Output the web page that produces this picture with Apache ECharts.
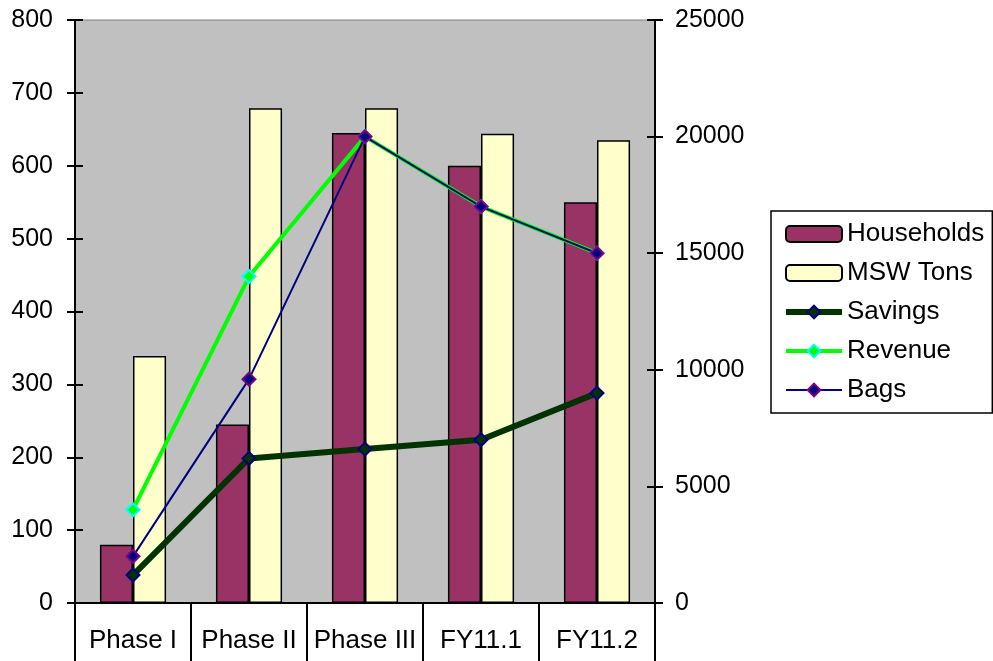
<!DOCTYPE html>
<html>
<head>
<meta charset="utf-8">
<script src="https://cdn.jsdelivr.net/npm/echarts@6/dist/echarts.min.js"></script>
<style>
html,body{margin:0;padding:0;background:#fff;}
#chart{width:993px;height:661px;}
</style>
</head>
<body>
<div id="chart"></div>
<script>
const categories = ['Phase I', 'Phase II', 'Phase III', 'FY11.1', 'FY11.2'];
const households = [80, 245, 645, 600, 550];
const mswTons = [339, 679, 679, 644, 635];
const savings = [1200, 6200, 6600, 7000, 9000];
const revenue = [4000, 14000, 20000, 17000, 15000];
const bags = [2000, 9600, 20000, 17000, 15000];

const FONT = "'Liberation Sans', Arial, sans-serif";

const chart = echarts.init(document.getElementById('chart'), null, {renderer: 'canvas'});

function yAx(pos, max, interval, showLabel, inside, margin) {
  return {
    type: 'value', position: pos, min: 0, max: max, interval: interval,
    axisLine: {show: true, lineStyle: {color: '#000', width: 2}},
    axisTick: {show: true, inside: inside, length: 8, lineStyle: {color: '#000', width: 2}},
    axisLabel: {show: showLabel, color: '#000', fontFamily: FONT, fontSize: 25, margin: margin,
                formatter: function (v) { return String(v); }},
    splitLine: {show: false}
  };
}

chart.setOption({
  animation: false,
  backgroundColor: '#fff',
  grid: {left: 75, right: 338, top: 20, bottom: 58, show: true,
         backgroundColor: '#C0C0C0', borderColor: '#808080', borderWidth: 1},
  legend: {
    orient: 'vertical', left: 771, top: 211,
    padding: [10, 8, 10, 12],
    itemWidth: 56, itemHeight: 16, itemGap: 13,
    borderColor: '#000', borderWidth: 1.5, backgroundColor: '#fff', borderRadius: 0,
    textStyle: {fontFamily: FONT, fontSize: 26, color: '#000', lineHeight: 26},
    data: [
      {name: 'Households'},
      {name: 'MSW Tons'},
      {name: 'Savings', lineStyle: {width: 6, color: '#003300'}},
      {name: 'Revenue', lineStyle: {width: 4, color: '#00FF00'}},
      {name: 'Bags', lineStyle: {width: 2, color: '#000080'}}
    ]
  },
  xAxis: {
    type: 'category', data: categories, boundaryGap: true,
    axisLine: {lineStyle: {color: '#000', width: 2}},
    axisTick: {show: true, length: 58, alignWithLabel: false, interval: 0, lineStyle: {color: '#000', width: 2}},
    axisLabel: {color: '#000', fontFamily: FONT, fontSize: 26, margin: 25, interval: 0}
  },
  yAxis: [
    yAx('left', 800, 100, true, false, 22),
    yAx('right', 25000, 5000, true, false, 20),
    yAx('left', 800, 100, false, true, 22),
    yAx('right', 25000, 5000, false, true, 20)
  ],
  series: [
    {name: 'Households', type: 'bar', yAxisIndex: 0, data: households,
     barGap: '0%', barCategoryGap: '43%',
     itemStyle: {color: '#993366', borderColor: '#000', borderWidth: 1.5}},
    {name: 'MSW Tons', type: 'bar', yAxisIndex: 0, data: mswTons,
     barGap: '0%', barCategoryGap: '43%',
     itemStyle: {color: '#FFFFCC', borderColor: '#000', borderWidth: 1.5}},
    {name: 'Savings', type: 'line', yAxisIndex: 1, data: savings,
     symbol: 'diamond', symbolSize: 13, showAllSymbol: true,
     lineStyle: {color: '#003300', width: 6},
     itemStyle: {color: '#003300', borderColor: '#000080', borderWidth: 2}},
    {name: 'Revenue', type: 'line', yAxisIndex: 1, data: revenue,
     symbol: 'diamond', symbolSize: 13, showAllSymbol: true,
     lineStyle: {color: '#00FF00', width: 4},
     itemStyle: {color: '#00FF00', borderColor: '#00FFFF', borderWidth: 2}},
    {name: 'Bags', type: 'line', yAxisIndex: 1, data: bags,
     symbol: 'diamond', symbolSize: 13, showAllSymbol: true,
     lineStyle: {color: '#000080', width: 2},
     itemStyle: {color: '#000080', borderColor: '#800080', borderWidth: 2}}
  ]
});
</script>
</body>
</html>
